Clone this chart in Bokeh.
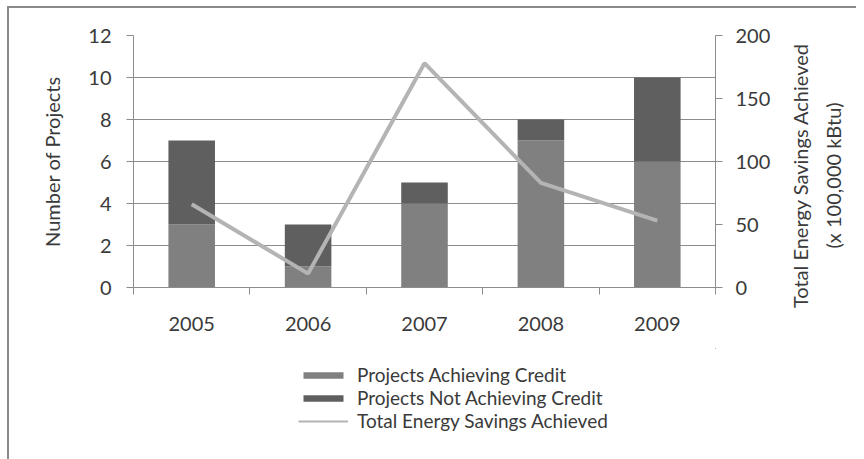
from bokeh.plotting import figure
from bokeh.layouts import column, row
from bokeh.models import (Range1d, LinearAxis, FixedTicker, Legend, LegendItem,
                          ColumnDataSource)
from bokeh.embed import file_html
from bokeh.resources import INLINE

# ---- data ----
years = ["2005", "2006", "2007", "2008", "2009"]
achieving = [3, 1, 4, 7, 6]
not_achieving = [4, 2, 1, 1, 4]
savings = [66, 11, 178, 83, 53]

left_title = "Number of Projects"
right_title = "Total Energy Savings Achieved\n(x 100,000 kBtu)"
legend_labels = ["Projects Achieving Credit", "Projects Not Achieving Credit",
                 "Total Energy Savings Achieved"]

xs = list(range(1, len(years) + 1))
totals = [a + b for a, b in zip(achieving, not_achieving)]
src = ColumnDataSource(dict(x=xs, ach=achieving, tot=totals, sav=savings))

FONT = "Lato"
FS = "20px"
TXT = "#3a3a3a"
GRID = "#8c8c8c"
LIGHT, DARK, LINE = "#808080", "#5f5f5f", "#b4b4b4"

p = figure(width=771, height=340, output_backend="svg", toolbar_location=None,
           x_range=Range1d(0.5, len(years) + 0.5), y_range=Range1d(0, 12),
           min_border_left=124, min_border_right=65, min_border_top=27,
           min_border_bottom=61, outline_line_color=None)
p.extra_y_ranges = {"sav": Range1d(0, 200)}

p.vbar(x="x", bottom=0, top="ach", width=0.4, source=src,
       fill_color=LIGHT, line_color=None)
p.vbar(x="x", bottom="ach", top="tot", width=0.4, source=src,
       fill_color=DARK, line_color=None)
p.line(x="x", y="sav", source=src, y_range_name="sav",
       line_color=LINE, line_width=4)

# x axis
xa = p.xaxis[0]
xa.ticker = FixedTicker(ticks=xs, minor_ticks=[x - 0.5 for x in xs] + [xs[-1] + 0.5])
xa.major_label_overrides = {x: y for x, y in zip(xs, years)}
xa.major_tick_out = 0
xa.major_tick_in = 0
xa.minor_tick_out = 7
xa.minor_tick_in = 0
xa.minor_tick_line_color = GRID
xa.axis_line_color = GRID
xa.major_label_standoff = 22

# left axis
ya = p.yaxis[0]
ya.ticker = FixedTicker(ticks=[0, 2, 4, 6, 8, 10, 12])
ya.axis_label = left_title
ya.minor_tick_line_color = None
ya.major_tick_out = 7
ya.major_tick_in = 0
ya.major_tick_line_color = GRID
ya.axis_line_color = GRID
ya.major_label_standoff = 15
ya.axis_label_standoff = 21

# right axis (ticks and numbers)
ra = LinearAxis(y_range_name="sav", ticker=FixedTicker(ticks=[0, 50, 100, 150, 200]))
ra.minor_tick_line_color = None
ra.major_tick_out = 7
ra.major_tick_in = 0
ra.major_tick_line_color = GRID
ra.axis_line_color = GRID
ra.major_label_standoff = 13
p.add_layout(ra, "right")

for ax in [xa, ya, ra]:
    ax.major_label_text_font = FONT
    ax.major_label_text_font_size = FS
    ax.major_label_text_color = TXT
    ax.axis_label_text_font = FONT
    ax.axis_label_text_font_size = FS
    ax.axis_label_text_font_style = "normal"
    ax.axis_label_text_color = TXT

p.xgrid.grid_line_color = None
p.ygrid.grid_line_color = GRID
p.ygrid.ticker = FixedTicker(ticks=[0, 2, 4, 6, 8, 10, 12])

# ---- right-hand title panel (reads bottom to top like the left title) ----
r = figure(width=76, height=312, output_backend="svg", toolbar_location=None,
           x_range=Range1d(0, 1), y_range=Range1d(0, 1), x_axis_type=None,
           outline_line_color=None, min_border_left=64, min_border_right=0,
           min_border_top=27, min_border_bottom=47,
           styles={"margin-top": "28px"})
r.xgrid.visible = False
r.ygrid.visible = False
rt = r.yaxis[0]
rt.ticker = FixedTicker(ticks=[])
rt.axis_line_color = None
rt.major_tick_line_color = None
rt.minor_tick_line_color = None
rt.major_tick_out = 0
rt.major_label_standoff = 0
rt.axis_label = right_title
rt.axis_label_standoff = 0
rt.axis_label_text_font = FONT
rt.axis_label_text_font_size = FS
rt.axis_label_text_font_style = "normal"
rt.axis_label_text_color = TXT
rt.axis_label_text_line_height = 1.35

# ---- legend panel (its glyphs lie outside its view) ----
q = figure(width=847, height=111, output_backend="svg", toolbar_location=None,
           x_range=Range1d(-20, -19), y_range=Range1d(-20, -19),
           x_axis_type=None, y_axis_type=None, outline_line_color=None,
           min_border_left=124, min_border_right=141, min_border_top=0, min_border_bottom=0)
q.xgrid.visible = False
q.ygrid.visible = False
l1 = q.vbar(x="x", bottom=0, top="ach", width=0.4, source=src,
            fill_color=LIGHT, line_color=None)
l2 = q.vbar(x="x", bottom="ach", top="tot", width=0.4, source=src,
            fill_color=DARK, line_color=None)
l3 = q.line(x="x", y="sav", source=src, line_color=LINE, line_width=2)

legend = Legend(items=[
    LegendItem(label=legend_labels[0], renderers=[l1]),
    LegendItem(label=legend_labels[1], renderers=[l2]),
    LegendItem(label=legend_labels[2], renderers=[l3]),
], location=(165, 27), orientation="vertical")
legend.glyph_width = 50
legend.glyph_height = 8
legend.label_height = 8
legend.spacing = 0
legend.padding = 0
legend.margin = 0
legend.label_standoff = 9
legend.border_line_color = None
legend.background_fill_alpha = 0
legend.label_text_font = FONT
legend.label_text_font_size = "19px"
legend.label_text_color = TXT
q.add_layout(legend, "center")

layout = column(row(p, r, spacing=0), q, spacing=0,
                styles={"margin-left": "7px", "margin-top": "6px",
                        "border-left": "2px solid #8a8a8a",
                        "border-top": "2px solid #8a8a8a"})
open("out.html", "w").write(file_html(layout, INLINE))
